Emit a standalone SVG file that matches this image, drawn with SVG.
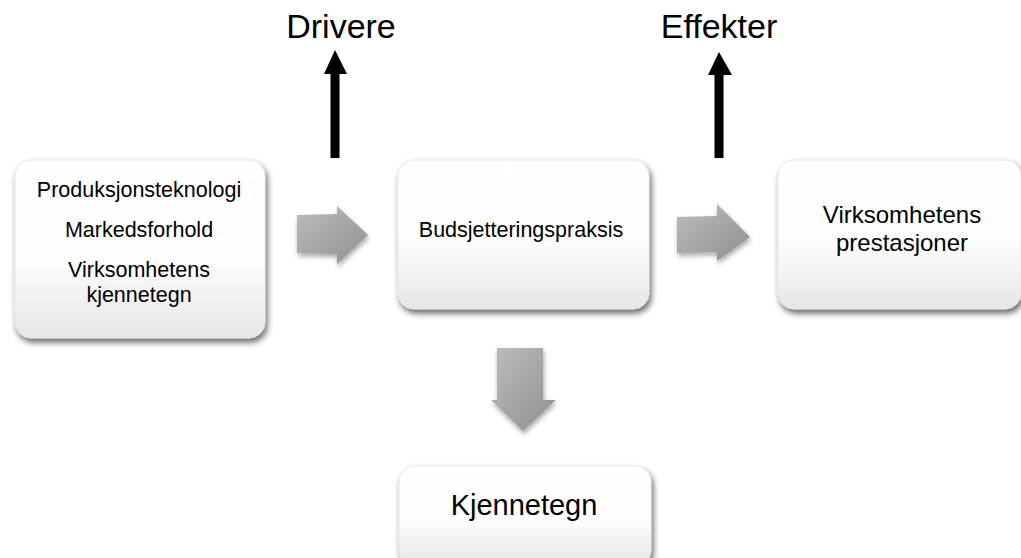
<svg xmlns="http://www.w3.org/2000/svg" width="1021" height="558" viewBox="0 0 1021 558">
<defs>
<linearGradient id="boxg" x1="0" y1="0" x2="0" y2="1">
<stop offset="0" stop-color="#ffffff"/>
<stop offset="0.55" stop-color="#fdfdfd"/>
<stop offset="1" stop-color="#e6e6e6"/>
</linearGradient>
<linearGradient id="arrg" x1="0" y1="0" x2="1" y2="1">
<stop offset="0" stop-color="#bdbdbd"/>
<stop offset="1" stop-color="#8f8f8f"/>
</linearGradient>
<filter id="sh" x="-10%" y="-10%" width="125%" height="130%">
<feDropShadow dx="2" dy="4" stdDeviation="3" flood-color="#000" flood-opacity="0.6"/>
</filter>
<filter id="ash" x="-20%" y="-20%" width="150%" height="150%">
<feDropShadow dx="1" dy="3" stdDeviation="2.5" flood-color="#000" flood-opacity="0.35"/>
</filter>
</defs>
<style>
.box{fill:url(#boxg);stroke:#e4e4e4;stroke-width:0.8;filter:url(#sh)}
.t{font-family:"Liberation Sans",Arial,sans-serif;fill:#000;text-anchor:middle}
.s{font-size:21.5px}
.b{font-size:24px}
.l{font-size:34px}
.m{font-size:29px}
.ga{fill:url(#arrg);filter:url(#ash)}
.bl{stroke:#000;stroke-width:9;fill:none}
</style>
<g id="connectors">
<path class="ga" d="M297,215 L337,214 L337,206 L368,235 L337,264 L337,254 L297,253 Z"/>
<path class="ga" d="M677,217 L717,216 L717,204 L750,237 L717,261 L717,252 L677,253 Z"/>
<path class="ga" d="M497,348 L543,348 L543,400 L556,400 L523,431 L491,400 L497,400 Z"/>
<path class="bl" d="M335,158 L335,70"/>
<path d="M324,74 L335,50 L347,74 Z" fill="#000"/>
<path class="bl" d="M719,158 L719,72"/>
<path d="M708,75 L719,52 L732,75 Z" fill="#000"/>
</g>
<g id="label-drivere"><text class="t l" x="341" y="38">Drivere</text></g>
<g id="label-effekter"><text class="t l" x="719" y="38">Effekter</text></g>
<g id="node-faktorer">
<rect class="box" x="15" y="160" width="250" height="178" rx="16"/>
<text class="t s" x="139" y="197">Produksjonsteknologi</text>
<text class="t s" x="139" y="237">Markedsforhold</text>
<text class="t s" x="139" y="277">Virksomhetens</text>
<text class="t s" x="139" y="302">kjennetegn</text>
</g>
<g id="node-budsjettering">
<rect class="box" x="398" y="160" width="251" height="149" rx="16"/>
<text class="t s" x="521" y="237">Budsjetteringspraksis</text>
</g>
<g id="node-prestasjoner">
<rect class="box" x="778" y="160" width="243" height="149" rx="16"/>
<text class="t b" x="902" y="223">Virksomhetens</text>
<text class="t b" x="902" y="251">prestasjoner</text>
</g>
<g id="node-kjennetegn">
<rect class="box" x="399" y="466" width="252" height="100" rx="16"/>
<text class="t m" x="524" y="515">Kjennetegn</text>
</g>
</svg>
